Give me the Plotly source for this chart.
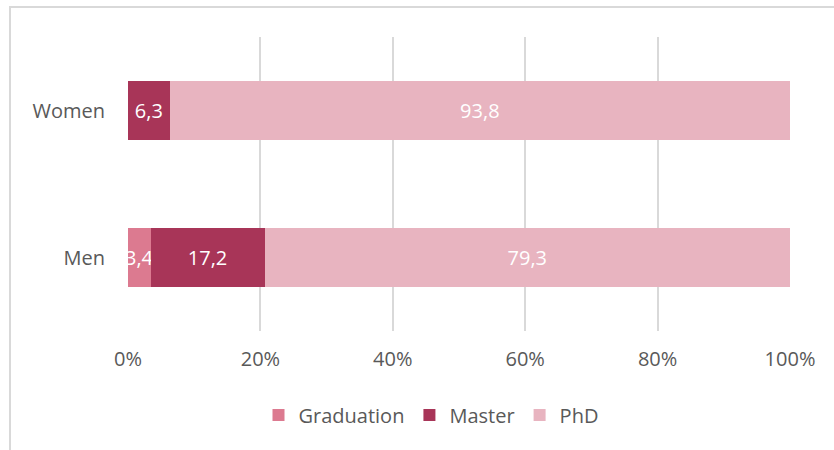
import plotly.graph_objects as go

categories = ["Men", "Women"]
series_names = ["Graduation", "Master", "PhD"]
graduation = [3.4, 0.0]
master = [17.2, 6.3]
phd = [79.3, 93.8]
x_ticks = [0, 20, 40, 60, 80, 100]
x_tick_labels = ["0%", "20%", "40%", "60%", "80%", "100%"]

colors = ["#DC7A90", "#A83558", "#E8B4C0"]
FONT = "Open Sans, Liberation Sans, sans-serif"

W, H = 834, 450
L, R, T, B = 128, 44, 37, 119
pw, ph = W - L - R, H - T - B


def px_to_paper_x(px):
    return (px - L) / pw


def px_to_paper_y(py):
    return (H - B - py) / ph


def fmt(v):
    return "" if v == 0 else f"{v:.1f}".replace(".", ",")


fig = go.Figure()
for name, vals, col in zip(series_names, [graduation, master, phd], colors):
    fig.add_trace(go.Bar(
        y=categories, x=vals, name=name, orientation="h",
        marker=dict(color=col, line=dict(width=0)),
        text=[fmt(v) for v in vals],
        textposition="inside", insidetextanchor="middle",
        constraintext="none", textangle=0,
        textfont=dict(color="white", size=20, family=FONT),
        cliponaxis=False,
    ))

fig.update_layout(
    width=W, height=H,
    margin=dict(l=L, r=R, t=T, b=B),
    barmode="stack", barnorm="percent", bargap=0.6,
    plot_bgcolor="white", paper_bgcolor="white",
    font=dict(family=FONT, size=20, color="#595959"),
    legend=dict(orientation="h", x=px_to_paper_x(431), xanchor="center",
                y=px_to_paper_y(415), yanchor="middle",
                font=dict(size=20, color="#595959"),
                itemwidth=30, traceorder="normal"),
    xaxis=dict(range=[0, 100], tickvals=x_ticks, ticktext=x_tick_labels,
               showgrid=True, gridcolor="#d9d9d9", gridwidth=1.5,
               zeroline=False, showline=False, ticks="",
               ticklabelstandoff=14, fixedrange=True),
    yaxis=dict(showgrid=False, zeroline=False, showline=False, ticks="",
               ticklabelstandoff=22, fixedrange=True),
    shapes=[
        dict(type="line", xref="paper", yref="paper",
             x0=px_to_paper_x(9), x1=px_to_paper_x(834),
             y0=px_to_paper_y(7), y1=px_to_paper_y(7),
             line=dict(color="#d9d9d9", width=2)),
        dict(type="line", xref="paper", yref="paper",
             x0=px_to_paper_x(10), x1=px_to_paper_x(10),
             y0=px_to_paper_y(7), y1=px_to_paper_y(460),
             line=dict(color="#d9d9d9", width=2)),
    ],
)

fig.write_html(
    "out.html",
    config={"displayModeBar": False},
    post_script="document.body.style.margin='0';document.body.style.overflow='hidden';",
)
